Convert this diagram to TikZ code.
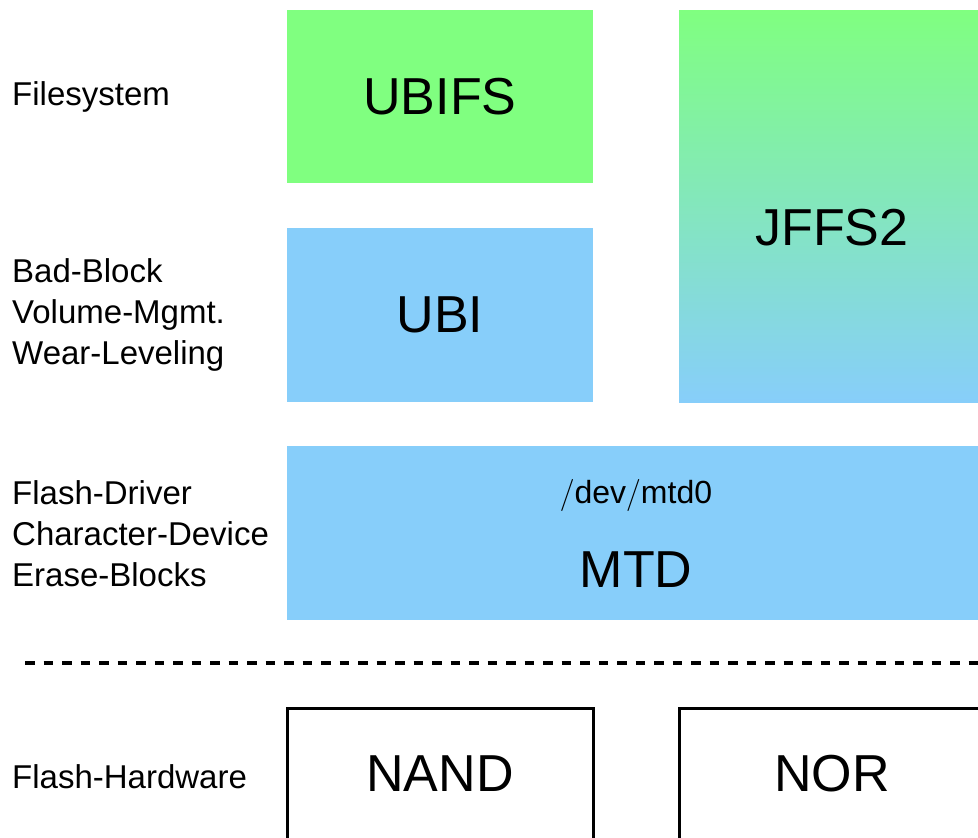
\documentclass[tikz,border=0pt]{standalone}
\usepackage{graphicx}
\usepackage{fontspec}
\setmainfont{Liberation Sans}
\definecolor{fsgreen}{RGB}{128,255,128}
\definecolor{layerblue}{RGB}{135,206,250}
\newcommand{\bigslash}{\scalebox{1.29}{$/$}}
\begin{document}
\begin{tikzpicture}[x=1pt,y=-1pt,
  layerbox/.style={draw=none, inner sep=0pt, outer sep=0pt},
  hwbox/.style={draw=black, line width=3pt, fill=white, inner sep=0pt},
  big/.style={font=\fontsize{52}{60}\selectfont, inner sep=0pt},
  mid/.style={font=\fontsize{32}{40}\selectfont, inner sep=0pt},
  lbl/.style={font=\fontsize{33}{41}\selectfont, align=left, anchor=base west, inner sep=0pt},
]
\clip (0,0) rectangle (978,838);
\fill[white] (0,0) rectangle (978,838);

% layer boxes
\node[layerbox, fill=fsgreen, minimum width=306pt, minimum height=173pt] (ubifs) at (440,96.5) {};
\node[big] (ubifstext) at (ubifs.center) {UBIFS};
\node[layerbox, fill=layerblue, minimum width=306pt, minimum height=174pt] (ubi) at (440,315) {};
\node[big] (ubitext) at (ubi.center) {UBI};
\node[layerbox, top color=fsgreen, bottom color=layerblue, minimum width=306pt, minimum height=392pt] (jffs2) at (832,206) {};
\node[big] (jffs2text) at (832,228) {JFFS2};
\node[layerbox, fill=layerblue, minimum width=698pt, minimum height=174pt] (mtd) at (636,533) {};
\node[mid, anchor=base] (mtddev) at (636,503) {\bigslash dev\bigslash mtd0};
\node[big] (mtdtext) at (636,570) {MTD};

% separator
\coordinate (dashL) at (25,663);
\coordinate (dashR) at (995,663);
\draw[line width=3.5pt, dash pattern=on 9.5pt off 9pt] (dashL) -- (dashR);

% hardware
\node[hwbox, minimum width=306pt, minimum height=132pt] (nand) at (440,774) {};
\node[big] (nandtext) at (nand.center) {NAND};
\node[hwbox, minimum width=306pt, minimum height=132pt] (nor) at (832,774) {};
\node[big] (nortext) at (nor.center) {NOR};

% left labels (base anchor = baseline of last line)
\node[lbl] (lfs) at (12,105) {Filesystem};
\node[lbl] (lbb) at (12,364) {Bad-Block\\Volume-Mgmt.\\Wear-Leveling};
\node[lbl] (lfd) at (12,586) {Flash-Driver\\Character-Device\\Erase-Blocks};
\node[lbl] (lfh) at (12,788) {Flash-Hardware};
\end{tikzpicture}
\end{document}
